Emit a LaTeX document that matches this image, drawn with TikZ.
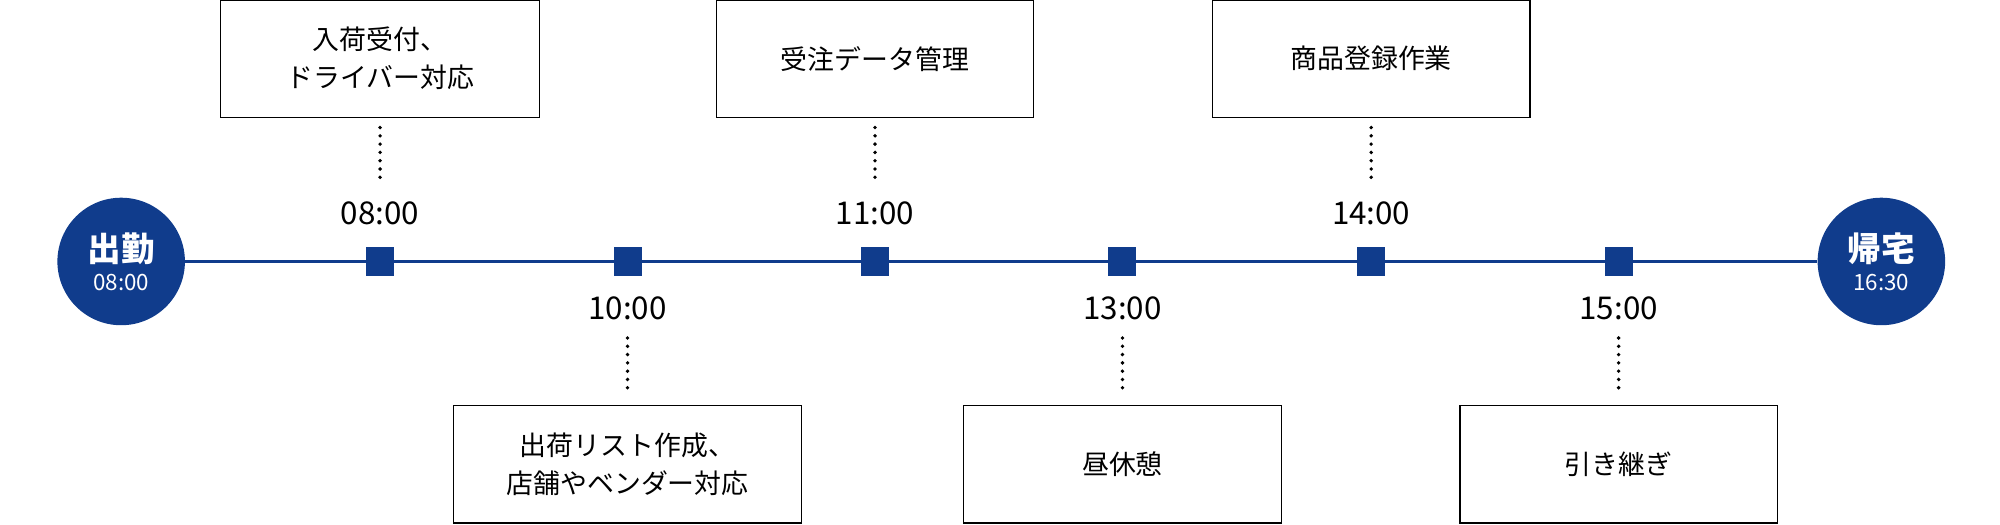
\documentclass[tikz,border=0pt]{standalone}
\usetikzlibrary{calc}
\usepackage{fontspec}
\setmainfont{Noto Sans CJK JP}
\begin{document}
\begin{tikzpicture}[x=0.02cm,y=-0.02cm,
  navy/.style={fill={rgb,255:red,16;green,60;blue,140}},
  taskbox/.style={draw=black,line width=0.6pt,minimum width=4.98cm,minimum height=1.84cm,align=center,font=\fontsize{12}{17}\selectfont,inner sep=0pt},
  sq/.style={navy,minimum size=0.44cm,inner sep=0pt},
  ends/.style={circle,navy,minimum size=2cm,inner sep=0pt,text=white,align=center},
  tm/.style={font=\fontsize{14}{16}\selectfont,inner sep=0pt},
  dots/.style={line width=0.06cm,line cap=round,dash pattern=on 0pt off 0.13cm}]
\useasboundingbox (0,0) rectangle (1568,411);
\node[ends] (s) at (95,205) {{\fontsize{15}{16}\selectfont\bfseries 出勤}\\[1pt]{\fontsize{10}{12}\selectfont 08:00}};
\node[ends] (e) at (1475,205) {{\fontsize{15}{16}\selectfont\bfseries 帰宅}\\[1pt]{\fontsize{10}{12}\selectfont 16:30}};
\draw[draw={rgb,255:red,16;green,60;blue,140},line width=0.05cm] (s) -- (e);
\foreach \n/\x in {a/298,b/492,c/686,d/880,f/1075,g/1269}{\node[sq] (\n) at (\x,205) {};}
% top
\node[taskbox,minimum width=5cm] (ta) at (298,46) {入荷受付、\\ドライバー対応};
\node[taskbox] (tc) at (686,46) {受注データ管理};
\node[taskbox] (tf) at (1075,46) {商品登録作業};
\foreach \n/\b/\t in {a/ta/08:00,c/tc/11:00,f/tf/14:00}{
  \node[tm] (l\n) at ($(\n)+(0,-38)$) {\t};
  \coordinate (u\n) at ($(\n)+(0,-105)$);
  \coordinate (v\n) at ($(\n)+(0,-60)$);
  \draw[dots] (u\n) -- (v\n);}
% bottom
\node[taskbox,minimum width=5.46cm] (tb) at (492,364) {出荷リスト作成、\\店舗やベンダー対応};
\node[taskbox] (td) at (880,364) {昼休憩};
\node[taskbox] (tg) at (1269,364) {引き継ぎ};
\foreach \n/\t in {b/10:00,d/13:00,g/15:00}{
  \node[tm] (l\n) at ($(\n)+(0,37)$) {\t};
  \coordinate (u\n) at ($(\n)+(0,60)$);
  \coordinate (v\n) at ($(\n)+(0,105)$);
  \draw[dots] (u\n) -- (v\n);}
\end{tikzpicture}
\end{document}
